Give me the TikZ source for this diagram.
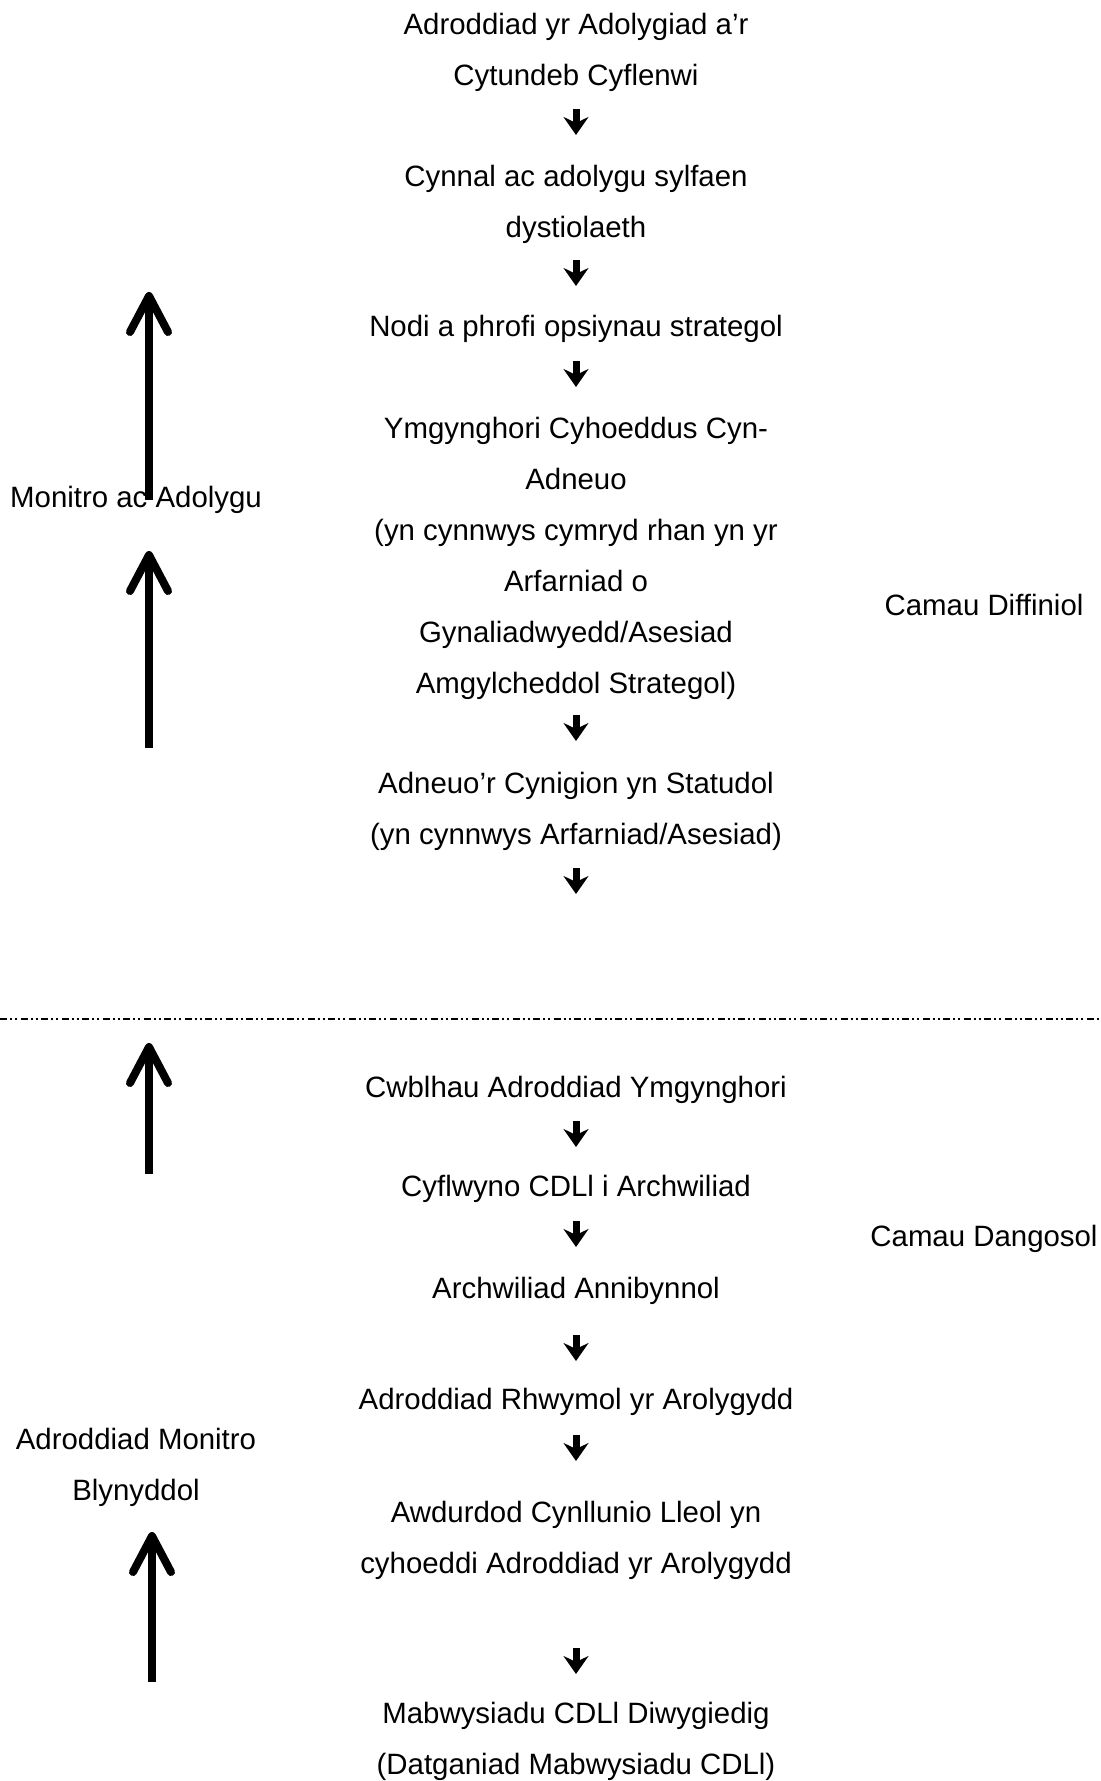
\documentclass[tikz,border=0pt]{standalone}
\usepackage{fontspec}
\setmainfont{Liberation Sans}
\usepackage{tikz}
\usetikzlibrary{arrows.meta,positioning}

\begin{document}
\begin{tikzpicture}[x=0.5pt,y=-0.5pt]
			\tikzstyle{Step}	= [align=center, inner sep=0pt, font=\fontsize{14.7}{25.5}\selectfont]
			\tikzstyle{Side}	= [Step]
			\tikzstyle{Down}	= [line width=3.5pt, -{Stealth[length=9pt, width=12.5pt, inset=3pt]}]
			\tikzstyle{Up}		= [line width=4pt, -{Straight Barb[length=18pt, width=19pt, round]}]
			\tikzstyle{Split}	= [line width=1.2pt, dash pattern=on 3.5pt off 1.5pt on 1pt off 1.5pt on 1pt off 1.75pt]

			\useasboundingbox (0,0) rectangle (1100,1781);

			% camau diffiniol
			\node (t1) at (576,52.5) [Step] {Adroddiad yr Adolygiad a’r\\Cytundeb Cyflenwi};
			\node (t2) at (576,204.5) [Step] {Cynnal ac adolygu sylfaen\\dystiolaeth};
			\node (t3) at (576,329) [Step] {Nodi a phrofi opsiynau strategol};
			\node (t4) at (576,558) [Step] {Ymgynghori Cyhoeddus Cyn-\\Adneuo\\(yn cynnwys cymryd rhan yn yr\\Arfarniad o\\Gynaliadwyedd/Asesiad\\Amgylcheddol Strategol)};
			\node (t5) at (576,811.5) [Step] {Adneuo’r Cynigion yn Statudol\\(yn cynnwys Arfarniad/Asesiad)};

			% camau dangosol
			\node (t6) at (576,1090) [Step] {Cwblhau Adroddiad Ymgynghori};
			\node (t7) at (576,1189) [Step] {Cyflwyno CDLl i Archwiliad};
			\node (t8) at (576,1291) [Step] {Archwiliad Annibynnol};
			\node (t9) at (576,1402) [Step] {Adroddiad Rhwymol yr Arolygydd};
			\node (t10) at (576,1540) [Step] {Awdurdod Cynllunio Lleol yn\\cyhoeddi Adroddiad yr Arolygydd};
			\node (t11) at (576,1741.5) [Step] {Mabwysiadu CDLl Diwygiedig\\(Datganiad Mabwysiadu CDLl)};

			\node (mon) at (136,500) [Side] {Monitro ac Adolygu};
			\node (amb) at (136,1467.5) [Side] {Adroddiad Monitro\\Blynyddol};
			\node (cdf) at (984,605) [Side] {Camau Diffiniol};
			\node (cdg) at (984,1239) [Side] {Camau Dangosol};

			\coordinate (a1) at (576,109);
			\coordinate (a2) at (576,260);
			\coordinate (a3) at (576,361);
			\coordinate (a4) at (576,715);
			\coordinate (a5) at (576,868);
			\coordinate (a6) at (576,1121);
			\coordinate (a7) at (576,1221);
			\coordinate (a8) at (576,1335);
			\coordinate (a9) at (576,1435);
			\coordinate (a10) at (576,1648);

			\draw [Down] (a1) -- ++(0,26);
			\draw [Down] (a2) -- ++(0,26);
			\draw [Down] (a3) -- ++(0,26);
			\draw [Down] (a4) -- ++(0,26);
			\draw [Down] (a5) -- ++(0,26);
			\draw [Down] (a6) -- ++(0,26);
			\draw [Down] (a7) -- ++(0,26);
			\draw [Down] (a8) -- ++(0,26);
			\draw [Down] (a9) -- ++(0,26);
			\draw [Down] (a10) -- ++(0,26);

			\coordinate (u1) at (149,292);
			\coordinate (u2a) at (149,748);
			\coordinate (u2b) at (149,551);
			\coordinate (u3a) at (149,1174);
			\coordinate (u3b) at (149,1043);
			\coordinate (u4a) at (152,1682);
			\coordinate (u4b) at (152,1532);

			\draw [Up] (mon.center -| u1) to (u1);
			\draw [Up] (u2a) to (u2b);
			\draw [Up] (u3a) to (u3b);
			\draw [Up] (u4a) to (u4b);

			\coordinate (d0) at (0,1019);
			\coordinate (d1) at (1100,1019);
			\draw [Split] (d0) to (d1);
		\end{tikzpicture}
\end{document}
